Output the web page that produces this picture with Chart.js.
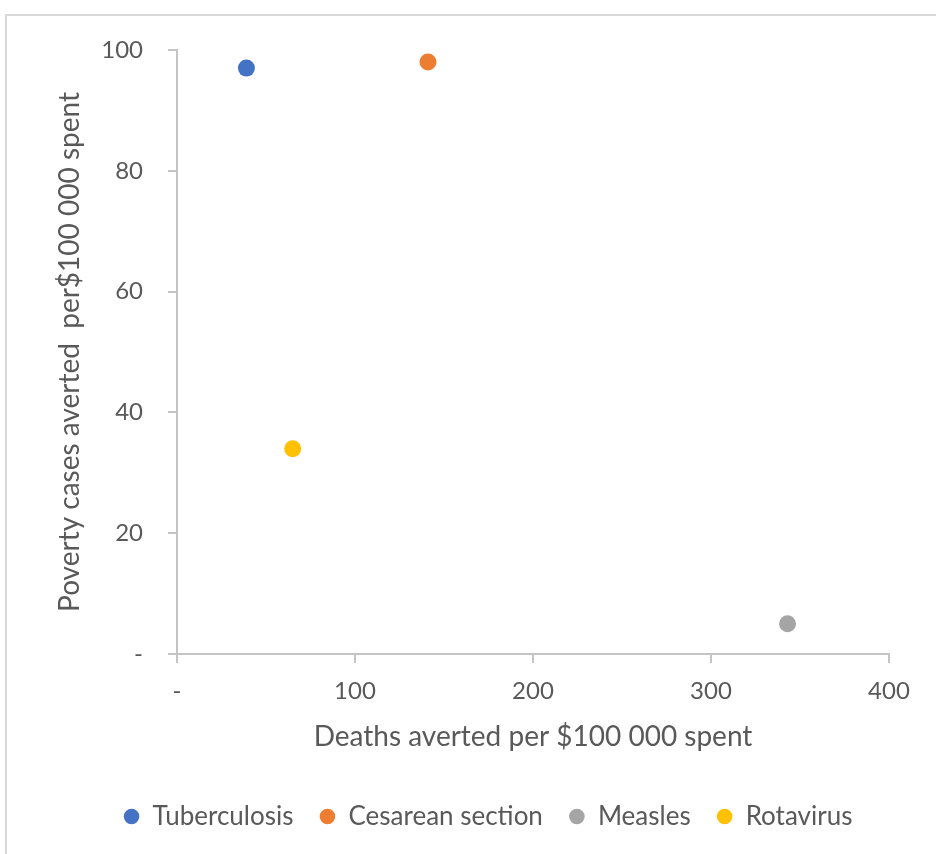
<!DOCTYPE html>
<html>
<head>
<meta charset="utf-8">
<script src="https://cdn.jsdelivr.net/npm/chart.js@4/dist/chart.umd.min.js"></script>
<style>
  html, body { margin: 0; padding: 0; background: #ffffff; overflow: hidden; }
  #frame {
    position: absolute; left: 5px; top: 14px; width: 1000px; height: 1000px;
    border: 2px solid #d9d9d9; box-sizing: border-box;
  }
  #wrap { position: absolute; left: 0; top: 0; width: 936px; height: 854px; }
</style>
</head>
<body>
<div id="frame"></div>
<div id="wrap"><canvas id="chart"></canvas></div>
<script>
// Interventions compared by deaths and poverty cases averted per $100 000 spent
const categories = ['Tuberculosis', 'Cesarean section', 'Measles', 'Rotavirus'];
const deathsAverted = [39, 141, 343, 65];
const povertyCasesAverted = [97, 98, 5, 34];
const seriesColors = ['#4472C4', '#ED7D31', '#A5A5A5', '#FFC000'];

const xTitle = 'Deaths averted per $100 000 spent';
const yTitle = 'Poverty cases averted  per$100 000 spent';

const TEXT = '#595959';
const AXIS = '#c4c4c4';
Chart.defaults.font.family = 'Lato, "Open Sans", sans-serif';
Chart.defaults.color = TEXT;

const zeroDash = v => (v === 0 ? '-' : v);

// keep the legend centred under the whole frame rather than the padded box
const legendCentre = {
  id: 'legendCentre',
  afterLayout(chart) {
    const lg = chart.legend;
    if (!lg) return;
    const dx = 488 - (lg.left + lg.right) / 2;
    lg.left += dx;
    lg.right += dx;
  }
};

const datasets = categories.map((name, i) => ({
  label: name,
  data: [{ x: deathsAverted[i], y: povertyCasesAverted[i] }],
  backgroundColor: seriesColors[i],
  borderColor: seriesColors[i],
  borderWidth: 0,
  pointRadius: 8.5,
  pointHoverRadius: 8.5,
  pointStyle: 'circle'
}));

new Chart(document.getElementById('chart'), {
  type: 'scatter',
  data: { datasets },
  plugins: [legendCentre],
  options: {
    responsive: true,
    maintainAspectRatio: false,
    animation: false,
    events: [],
    layout: { padding: { top: 50, right: 47, left: 0, bottom: 14.5 } },
    plugins: {
      tooltip: { enabled: false },
      legend: {
        position: 'bottom',
        labels: {
          usePointStyle: true,
          boxHeight: 11,
          boxWidth: 16,
          padding: 26,
          color: TEXT,
          font: { size: 26 }
        }
      }
    },
    scales: {
      x: {
        type: 'linear',
        min: 0, max: 400,
        afterFit(scale) { scale.height = 123.5; },
        ticks: { stepSize: 100, padding: 14, color: TEXT, font: { size: 24 }, callback: zeroDash },
        grid: { drawOnChartArea: false, drawTicks: true, tickLength: 9, color: AXIS, lineWidth: 2 },
        border: { display: true, color: AXIS, width: 2 },
        title: { display: true, text: xTitle, color: TEXT, font: { size: 28 }, padding: { top: 0, bottom: 23.7 } }
      },
      y: {
        type: 'linear',
        min: 0, max: 100,
        afterFit(scale) { scale.width = 177; },
        ticks: { stepSize: 20, padding: 25, color: TEXT, font: { size: 24 }, callback: zeroDash },
        grid: { drawOnChartArea: false, drawTicks: true, tickLength: 9, color: AXIS, lineWidth: 2 },
        border: { display: true, color: AXIS, width: 2 },
        title: { display: true, text: yTitle, color: TEXT, font: { size: 28 }, padding: { top: 53, bottom: 0 } }
      }
    }
  }
});
</script>
</body>
</html>
